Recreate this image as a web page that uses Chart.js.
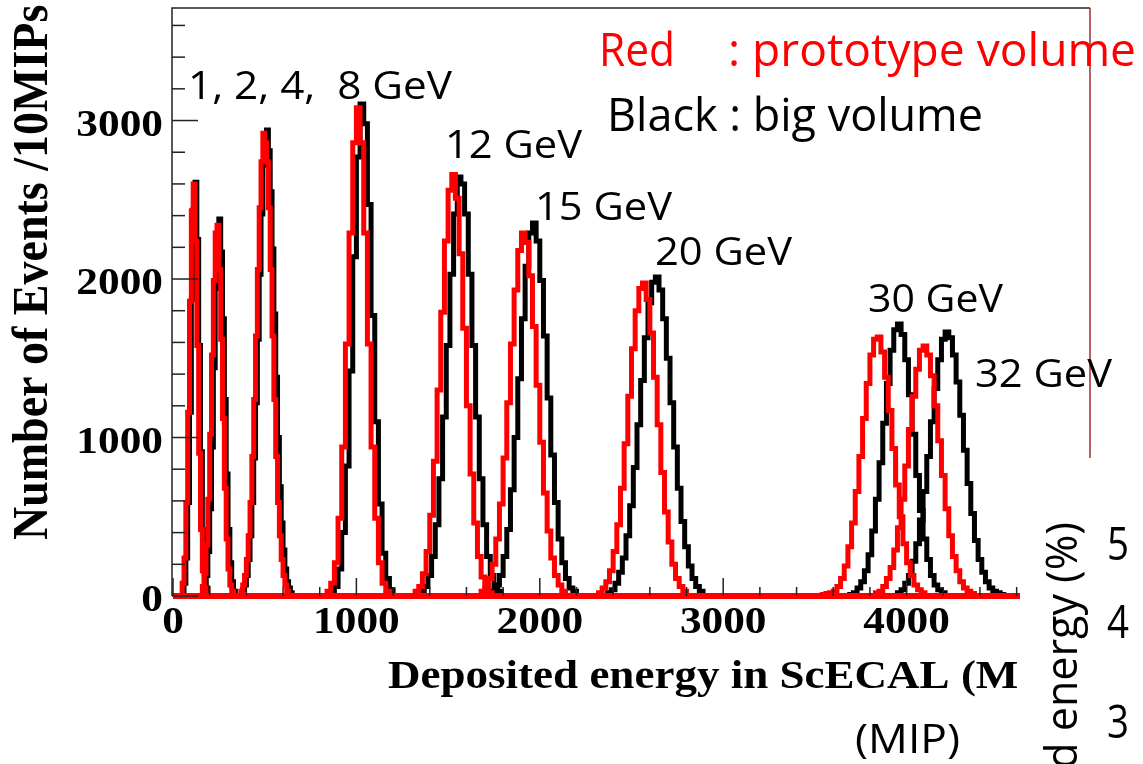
<!DOCTYPE html>
<html>
<head>
<meta charset="utf-8">
<script src="https://cdn.jsdelivr.net/npm/chart.js@4.4.1/dist/chart.umd.min.js"></script>
<style>
  html, body { margin: 0; padding: 0; background: #fff; }
  #wrap { width: 1143px; height: 764px; }
</style>
</head>
<body>
<div id="wrap"><canvas id="chart" width="1143" height="764"></canvas></div>
<script>
// tick labels
const xTicks = [0, 1000, 2000, 3000, 4000];
const yTicks = [0, 1000, 2000, 3000];
const xMax = 5000;
const yMax = 3710;

// beam energies, one red and one black histogram each
const energies = ['1 GeV', '2 GeV', '4 GeV', '8 GeV', '12 GeV', '15 GeV', '20 GeV', '30 GeV', '32 GeV'];
const binWidth = [10, 10, 10, 20, 20, 20, 20, 20, 20];
const redStart = [50, 160, 370, 840, 1320, 1680, 2320, 3540, 3830];
const blackStart = [60, 170, 380, 860, 1350, 1740, 2370, 3690, 3950];

// red : prototype volume (events per bin)
const red1 = [80, 240, 590, 1160, 1860, 2430, 2600, 2240, 1580, 900, 420, 160, 50];
const red2 = [60, 140, 320, 610, 1020, 1520, 1990, 2290, 2340, 2060, 1620, 1120, 680, 360, 170, 70, 30];
const red4 = [30, 70, 130, 230, 380, 590, 880, 1240, 1640, 2060, 2450, 2740, 2920, 2860, 2740, 2450, 2060, 1640, 1240, 880, 590, 380, 230, 130, 70, 30];
const red8 = [30, 80, 210, 490, 940, 1590, 2290, 2860, 3080, 2860, 2290, 1590, 940, 490, 210, 80, 30];
const red12 = [30, 60, 140, 280, 510, 850, 1300, 1790, 2240, 2560, 2660, 2510, 2160, 1690, 1200, 770, 460, 250, 120, 50, 20];
const red15 = [30, 50, 110, 200, 360, 580, 870, 1220, 1590, 1930, 2180, 2290, 2230, 2020, 1700, 1330, 970, 650, 410, 240, 130, 70, 30];
const red20 = [20, 50, 90, 160, 280, 450, 680, 960, 1260, 1560, 1800, 1940, 1975, 1870, 1660, 1380, 1080, 780, 530, 340, 200, 110, 60, 30];
const red30 = [10, 15, 20, 30, 60, 110, 190, 310, 460, 660, 880, 1120, 1340, 1520, 1620, 1634, 1540, 1380, 1170, 930, 700, 500, 330, 210, 130, 70, 40, 20];
const red32 = [20, 30, 60, 110, 180, 290, 430, 610, 820, 1050, 1260, 1430, 1550, 1577, 1520, 1390, 1200, 980, 760, 550, 380, 250, 160, 90, 50, 30, 15];

// black : big volume
const black1 = [80, 240, 590, 1160, 1870, 2440, 2610, 2250, 1580, 910, 420, 160, 50];
const black2 = [50, 130, 280, 550, 940, 1440, 1940, 2280, 2378, 2170, 1750, 1240, 770, 420, 210, 90, 30];
const black4 = [40, 70, 130, 230, 380, 590, 870, 1220, 1620, 2030, 2410, 2720, 2900, 2940, 2810, 2550, 2190, 1780, 1380, 1000, 690, 460, 290, 170, 90, 50, 20];
const black8 = [20, 60, 170, 400, 820, 1420, 2140, 2770, 3104, 2980, 2470, 1770, 1100, 580, 270, 110, 40];
const black12 = [30, 60, 130, 250, 450, 740, 1130, 1580, 2030, 2410, 2644, 2600, 2410, 2030, 1580, 1130, 740, 450, 250, 130, 60, 30];
const black15 = [30, 70, 130, 250, 420, 670, 1000, 1370, 1750, 2080, 2290, 2353, 2240, 1990, 1640, 1250, 890, 590, 360, 210, 110, 50, 30];
const black20 = [20, 40, 80, 150, 240, 380, 570, 810, 1080, 1360, 1630, 1850, 1980, 2013, 1930, 1750, 1500, 1220, 940, 680, 470, 310, 190, 110, 60, 30];
const black30 = [10, 20, 50, 90, 160, 260, 410, 610, 840, 1090, 1340, 1550, 1680, 1716, 1650, 1490, 1270, 1020, 760, 540, 360, 230, 130, 70, 40, 20];
const black32 = [20, 40, 80, 130, 220, 330, 480, 660, 880, 1100, 1310, 1490, 1620, 1666, 1630, 1520, 1350, 1140, 920, 710, 520, 350, 230, 150, 90, 50, 30, 20, 10];

const redCounts = [red1, red2, red4, red8, red12, red15, red20, red30, red32];
const blackCounts = [black1, black2, black4, black8, black12, black15, black20, black30, black32];

// histogram outline: bin left edges, running along zero outside the peak
function histPoints(start, width, counts) {
  const pts = [{ x: 0, y: 0 }];
  counts.forEach((c, i) => pts.push({ x: start + i * width, y: c }));
  pts.push({ x: start + counts.length * width, y: 0 });
  pts.push({ x: xMax, y: 0 });
  return pts;
}

const datasets = [];
energies.forEach((e, i) => {
  datasets.push({
    label: 'prototype ' + e,
    data: histPoints(redStart[i], binWidth[i], redCounts[i]),
    borderColor: '#ff0000',
    borderWidth: 5,
    clip: false,
  });
});
energies.forEach((e, i) => {
  datasets.push({
    label: 'big ' + e,
    data: histPoints(blackStart[i], binWidth[i], blackCounts[i]),
    borderColor: '#000000',
    borderWidth: 5,
    clip: false,
  });
});

function fitText(ctx, text, x, y, w, font, color) {
  ctx.save();
  ctx.font = font;
  ctx.fillStyle = color;
  ctx.textAlign = 'left';
  ctx.textBaseline = 'alphabetic';
  const m = ctx.measureText(text).width;
  ctx.translate(x, y);
  ctx.scale(w / m, 1);
  ctx.fillText(text, 0, 0);
  ctx.restore();
}

// ROOT style frame, ticks and labels, plus the slide texts laid over the plot
const overlay = {
  id: 'overlay',
  afterDatasetsDraw(chart) {
    const ctx = chart.ctx;
    const xs = chart.scales.x;
    const ys = chart.scales.y;
    const a = chart.chartArea;
    const x0 = xs.getPixelForValue(0);
    const y0 = ys.getPixelForValue(0);

    ctx.save();
    ctx.strokeStyle = '#222';
    ctx.lineWidth = 1.5;
    ctx.beginPath();
    ctx.moveTo(x0 - 1, y0);
    ctx.lineTo(x0 - 1, a.top);
    ctx.lineTo(a.right, a.top);
    ctx.stroke();

    // y ticks
    for (let v = 0; v <= yMax; v += 200) {
      const py = ys.getPixelForValue(v);
      const len = v % 1000 === 0 ? 26 : 13;
      ctx.beginPath();
      ctx.moveTo(x0 - 1, py);
      ctx.lineTo(x0 - 1 + len, py);
      ctx.stroke();
    }
    // x ticks
    for (let v = 0; v <= xMax; v += 200) {
      const px = xs.getPixelForValue(v);
      const len = v % 1000 === 0 ? 18 : 9;
      ctx.beginPath();
      ctx.moveTo(px, y0);
      ctx.lineTo(px, y0 - len);
      ctx.stroke();
    }

    ctx.fillStyle = '#000';
    ctx.font = 'bold 38px "Liberation Serif"';
    yTicks.forEach(v => {
      const t = String(v);
      const w = ctx.measureText(t).width * 1.14;
      ctx.save();
      ctx.translate(163 - w, ys.getPixelForValue(v) + 15);
      ctx.scale(1.14, 1);
      ctx.fillText(t, 0, 0);
      ctx.restore();
    });
    xTicks.forEach(v => {
      const t = String(v);
      const w = ctx.measureText(t).width * 1.14;
      ctx.save();
      ctx.translate(xs.getPixelForValue(v) - w / 2, 633);
      ctx.scale(1.14, 1);
      ctx.fillText(t, 0, 0);
      ctx.restore();
    });

    // axis titles
    ctx.save();
    ctx.font = 'bold 39.5px "Liberation Serif"';
    ctx.translate(388, 688);
    ctx.scale(1.14, 1);
    ctx.fillText('Deposited energy in ScECAL (MIPs)', 0, 0);
    ctx.restore();

    ctx.save();
    ctx.font = 'bold 46px "Liberation Serif"';
    ctx.translate(47, 540);
    ctx.rotate(-Math.PI / 2);
    ctx.scale(1, 1.12);
    ctx.fillText('Number of Events /10MIPs', 0, 0);
    ctx.restore();

    // lower right of the plot is hidden by the next slide element
    ctx.fillStyle = '#fff';
    ctx.fillRect(1020, 458, 1143 - 1020, 764 - 458);

    ctx.strokeStyle = '#a52a2a';
    ctx.lineWidth = 1.5;
    ctx.beginPath();
    ctx.moveTo(a.right, a.top);
    ctx.lineTo(a.right, 458);
    ctx.stroke();
    ctx.restore();

    const labelFont = '38px "Open Sans"';
    fitText(ctx, '1, 2, 4,  8 GeV', 188, 99, 264, labelFont, '#000');
    fitText(ctx, '12 GeV', 445, 158, 137, labelFont, '#000');
    fitText(ctx, '15 GeV', 535, 220, 137, labelFont, '#000');
    fitText(ctx, '20 GeV', 655, 265, 137, labelFont, '#000');
    fitText(ctx, '30 GeV', 868, 312, 135, labelFont, '#000');
    fitText(ctx, '32 GeV', 975, 387, 137, labelFont, '#000');

    const legendFont = '46px "Open Sans"';
    fitText(ctx, 'Red', 599, 66, 76, legendFont, '#ff0000');
    fitText(ctx, ': prototype volume', 728, 66, 408, legendFont, '#ff0000');
    fitText(ctx, 'Black : big volume', 607, 131, 376, legendFont, '#000');

    const otherFont = '40px "Open Sans"';
    fitText(ctx, '(MIP)', 855, 753, 105, otherFont, '#000');
    fitText(ctx, '5', 1107, 560, 22, '46px "Open Sans"', '#000');
    fitText(ctx, '4', 1107, 638, 22, '46px "Open Sans"', '#000');
    fitText(ctx, '3', 1107, 738, 22, '46px "Open Sans"', '#000');
    ctx.save();
    ctx.font = '43px "Open Sans"';
    ctx.fillStyle = '#000';
    ctx.translate(1077, 522);
    ctx.rotate(-Math.PI / 2);
    ctx.textAlign = 'right';
    ctx.fillText('d energy (%)', 0, 0);
    ctx.restore();
  }
};

new Chart(document.getElementById('chart'), {
  type: 'line',
  data: { datasets },
  options: {
    responsive: false,
    animation: false,
    devicePixelRatio: 1,
    layout: { padding: { left: 173, right: 53, top: 8, bottom: 168 } },
    elements: {
      line: { stepped: 'before', tension: 0, fill: false },
      point: { radius: 0 },
    },
    scales: {
      x: { type: 'linear', min: 0, max: xMax, display: false },
      y: { type: 'linear', min: 0, max: yMax, display: false },
    },
    plugins: {
      legend: { display: false },
      tooltip: { enabled: false },
    },
  },
  plugins: [overlay],
});
</script>
</body>
</html>
